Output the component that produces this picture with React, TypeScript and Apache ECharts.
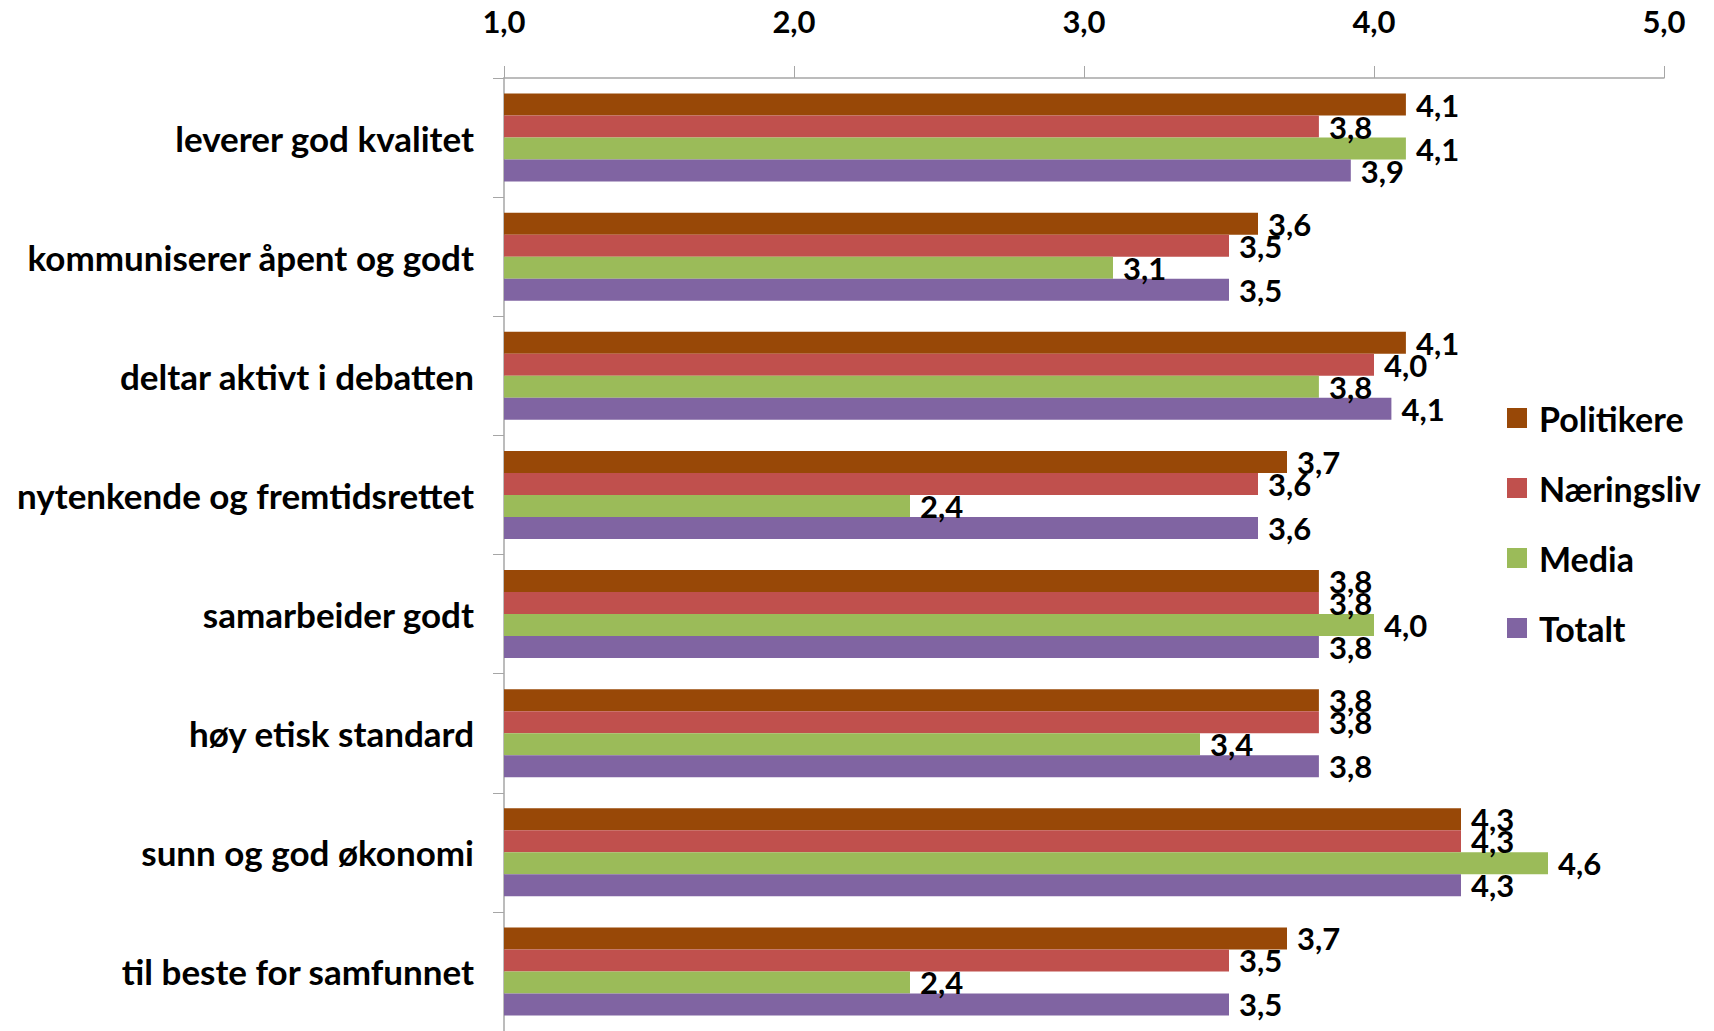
import React, { useEffect, useRef } from "react";
import * as echarts from "echarts";

const categories = [
  "leverer god kvalitet",
  "kommuniserer åpent og godt",
  "deltar aktivt i debatten",
  "nytenkende og fremtidsrettet",
  "samarbeider godt",
  "høy etisk standard",
  "sunn og god økonomi",
  "til beste for samfunnet",
];

const seriesNames = ["Politikere", "Næringsliv", "Media", "Totalt"];
const politikere = [4.11, 3.6, 4.11, 3.7, 3.81, 3.81, 4.3, 3.7];
const naeringsliv = [3.81, 3.5, 4.0, 3.6, 3.81, 3.81, 4.3, 3.5];
const media = [4.11, 3.1, 3.81, 2.4, 4.0, 3.4, 4.6, 2.4];
const totalt = [3.92, 3.5, 4.06, 3.6, 3.81, 3.81, 4.3, 3.5];
const colors = ["#984807", "#C0504D", "#9BBB59", "#8064A2"];

const axisMin = 1;
const axisMax = 5;
const axisStep = 1;

const FONT = "Lato";
const fmt = (v: number) => Number(v).toFixed(1).replace(".", ",");

export default function App() {
  const ref = useRef<HTMLDivElement>(null);

  useEffect(() => {
    if (!ref.current) return;
    const chart = echarts.init(ref.current, undefined, { renderer: "svg" });
    const data = [politikere, naeringsliv, media, totalt];
    const axisColor = "#a6a6a6";
    chart.setOption({
      animation: false,
      backgroundColor: "#ffffff",
      grid: { left: 504, top: 78, width: 1160, height: 955, containLabel: false },
      legend: {
        orient: "vertical",
        left: 1502,
        top: 396,
        itemWidth: 20,
        itemHeight: 20,
        itemGap: 36,
        icon: "rect",
        data: seriesNames,
        textStyle: {
          fontFamily: FONT,
          fontWeight: "bold",
          fontSize: 34,
          lineHeight: 34,
          color: "#000",
          padding: [0, 0, 0, 7],
        },
      },
      xAxis: {
        type: "value",
        position: "top",
        min: axisMin,
        max: axisMax,
        interval: axisStep,
        axisLine: { show: true, lineStyle: { color: axisColor, width: 1.5 } },
        axisTick: { show: true, length: 12, lineStyle: { color: axisColor } },
        splitLine: { show: false },
        axisLabel: {
          formatter: (v: number) => fmt(v),
          fontFamily: FONT,
          fontWeight: "bold",
          fontSize: 31,
          color: "#000",
          margin: 42,
        },
      },
      yAxis: {
        type: "category",
        inverse: true,
        data: categories,
        axisLine: { show: true, lineStyle: { color: axisColor, width: 1.5 } },
        axisTick: { show: true, length: 11, lineStyle: { color: axisColor } },
        axisLabel: {
          fontFamily: FONT,
          fontWeight: "bold",
          fontSize: 35,
          color: "#000",
          margin: 30,
          padding: [6, 0, 0, 0],
        },
      },
      series: seriesNames.map((name, i) => ({
        name,
        type: "bar",
        data: data[i],
        barWidth: 22,
        barGap: "0%",
        itemStyle: { color: colors[i] },
        label: {
          show: true,
          position: "right",
          distance: 10,
          formatter: (p: any) => fmt(p.value),
          fontFamily: FONT,
          fontWeight: "bold",
          fontSize: 31,
          color: "#000",
        },
      })),
    });
    return () => chart.dispose();
  }, []);

  return (
    <div
      ref={ref}
      style={{ position: "absolute", left: 0, top: 0, width: 1714, height: 1031 }}
    />
  );
}
